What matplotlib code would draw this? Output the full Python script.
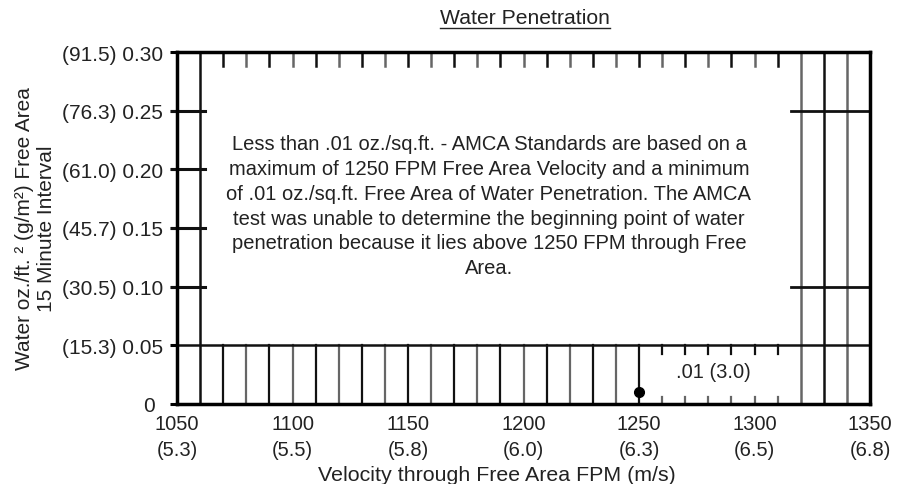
import numpy as np
import matplotlib
matplotlib.use("Agg")
import matplotlib.pyplot as plt
from matplotlib.transforms import ScaledTranslation

plt.rcParams['font.family'] = ['Liberation Sans', 'DejaVu Sans']

# 数据
fpm_ticks = [1050, 1100, 1150, 1200, 1250, 1300, 1350]
ms_labels = ['5.3', '5.5', '5.8', '6.0', '6.3', '6.5', '6.8']
oz_ticks = [0, 0.05, 0.10, 0.15, 0.20, 0.25, 0.30]
gm_labels = ['', '15.3', '30.5', '45.7', '61.0', '76.3', '91.5']
point_fpm = [1250]
point_oz = [0.01]
point_label = '.01 (3.0)'

note = ("Less than .01 oz./sq.ft. - AMCA Standards are based on a\n"
        "maximum of 1250 FPM Free Area Velocity and a minimum\n"
        "of .01 oz./sq.ft. Free Area of Water Penetration. The AMCA\n"
        "test was unable to determine the beginning point of water\n"
        "penetration because it lies above 1250 FPM through Free\n"
        "Area.")

fs = 14.5
txt = '#222222'

fig = plt.figure(figsize=(9.06, 4.85), dpi=100)
ax = fig.add_axes([0.1954, 0.165, 0.7649, 0.7257])
ax.set_xlim(1050, 1350)
ax.set_ylim(0, 0.30)

# 网格（扫描风格）
dark, light = '#111111', '#666666'
for i, x in enumerate(np.arange(1070, 1251, 10)):
    c = dark if i % 2 == 0 else light
    ax.plot([x, x], [0, 0.05], color=c, lw=1.6)
for x in np.arange(1260, 1311, 10):
    ax.plot([x, x], [0.05, 0.043], color=dark, lw=1.6)
    ax.plot([x, x], [0, 0.006], color=light, lw=1.6)
for i, x in enumerate(np.arange(1070, 1311, 10)):
    c = dark if i % 2 == 0 else light
    ax.plot([x, x], [0.30, 0.288], color=c, lw=1.8)
for x, c in zip([1060, 1320, 1330, 1340], [dark, light, dark, light]):
    ax.plot([x, x], [0, 0.30], color=c, lw=1.8)
ax.axhline(0.05, color=dark, lw=1.8)
for y in [0.10, 0.15, 0.20, 0.25]:
    ax.plot([1048, 1062], [y, y], color=dark, lw=2.2, clip_on=False)
for y in [0.10, 0.25]:
    ax.plot([1316, 1350], [y, y], color=dark, lw=2.0)

# 数据点
ax.plot(point_fpm, point_oz, 'o', color='black', ms=7, zorder=5)
ax.text(1282, 0.028, point_label, ha='center', va='center', fontsize=fs, color=txt)

ax.text(1185, 0.169, note, ha='center', va='center', fontsize=fs, color=txt,
        linespacing=1.39)

for s in ax.spines.values():
    s.set_linewidth(2.5)
    s.set_color('black')

ax.set_xticks(fpm_ticks)
ax.set_xticklabels([f"{a}\n({b})" for a, b in zip(fpm_ticks, ms_labels)],
                   linespacing=1.5)
ax.set_yticks(oz_ticks)
ylabels = ['0'] + [f"({g}) {o:.2f}" for g, o in zip(gm_labels[1:], oz_ticks[1:])]
ax.set_yticklabels(ylabels)
ax.tick_params(axis='x', length=0, pad=7, labelsize=fs, labelcolor=txt)
ax.tick_params(axis='y', length=5, width=2.2, pad=5, labelsize=15, labelcolor=txt)
# "0" 稍微左移
zero_lbl = ax.get_yticklabels()[0]
zero_lbl.set_transform(zero_lbl.get_transform() + ScaledTranslation(-6 / 72, 0, fig.dpi_scale_trans))

ax.set_ylabel("Water oz./ft. ² (g/m²) Free Area\n15 Minute Interval",
              fontsize=15, color=txt, labelpad=4)
fig.text(497 / 906, 1 - 476 / 485, "Velocity through Free Area FPM (m/s)",
         ha='center', va='center', fontsize=15.4, color=txt)
fig.text(525 / 906, 1 - 18 / 485, "Water Penetration", ha='center', va='center',
         fontsize=15.2, color=txt)
fig.add_artist(plt.Line2D([440 / 906, 610 / 906], [1 - 29 / 485, 1 - 29 / 485],
                          color=txt, lw=1.0))

fig.savefig("out.png", dpi=100)
